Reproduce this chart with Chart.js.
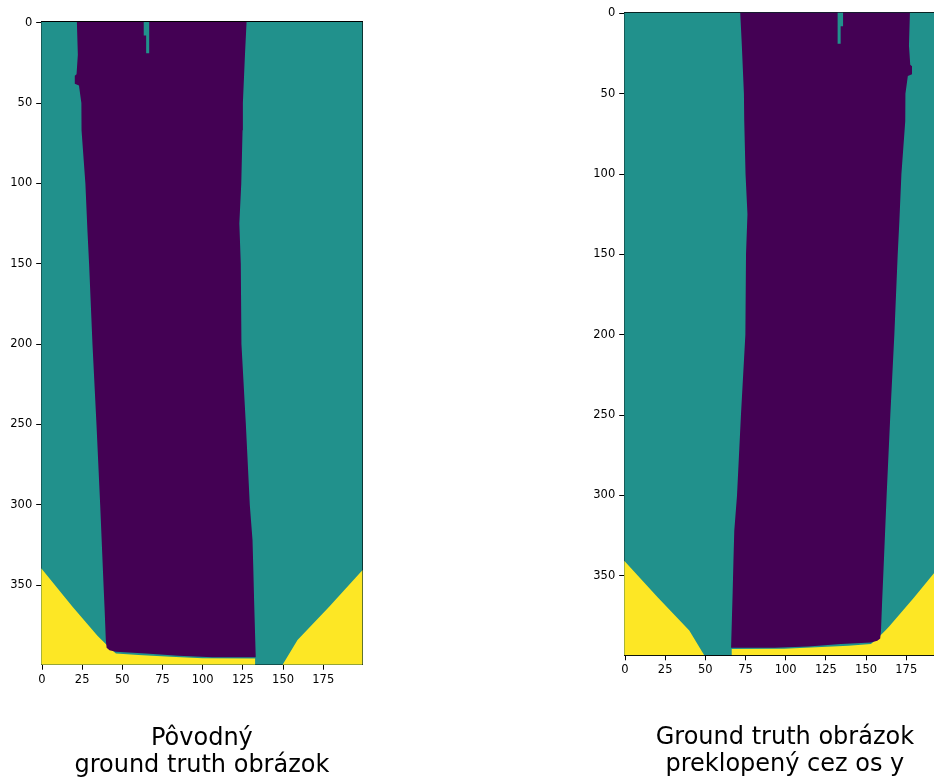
<!DOCTYPE html>
<html>
<head>
<meta charset="utf-8">
<script src="https://cdn.jsdelivr.net/npm/chart.js@4.4.1/dist/chart.umd.min.js"></script>
<style>
html, body { margin:0; padding:0; background:#fff; overflow:hidden; width:934px; height:780px; }
#c1 { position:absolute; left:0; top:0; }
#c2 { position:absolute; left:467px; top:0; }
</style>
</head>
<body>
<canvas id="c1" width="467" height="780"></canvas>
<canvas id="c2" width="520" height="780"></canvas>
<script>
// ---- tick labels ----
const xTickLabels = [0, 25, 50, 75, 100, 125, 150, 175];
const yTickLabels = [0, 50, 100, 150, 200, 250, 300, 350];

// ---- class 0 (purple) region boundaries (column, row) ----
const purpleLeftX    = [21.7, 22.3, 21.5, 20.4, 20.4, 23.0, 24.5, 24.6, 27.0, 28.3, 29.3, 31.4, 33.9, 36.2, 38.3, 39.0, 39.7, 40.2];
const purpleLeftRow  = [-0.5, 20,   32,   33,   38,   39,   50,   67,   100,  130,  150,  200,  250,  300,  350,  366,  384,  389];
const purpleBottomX   = [42.0,  46.0,  64.6,  85.0,  106.0, 133.0];
const purpleBottomRow = [390.5, 391.5, 392.5, 394.0, 394.8, 394.8];
const purpleRightX   = [133.0, 132.0, 131.5, 131.0, 129.3, 126.8, 124.1, 123.7, 122.8, 124.0, 124.8, 125.0, 126.3, 127.3];
const purpleRightRow = [394.8, 360,   340,   322,   300,   249,   200,   150,   125,   100,   67,    50,    20,    -0.5];

// ---- small class 1 (teal) notch inside the purple region at the top ----
const notchX   = [63.3, 66.7, 66.7, 64.8, 64.8, 63.3];
const notchRow = [-0.5, -0.5, 19,   19,   8,    8];

// ---- class 2 (yellow) regions ----
const yellowLeftX   = [-0.5,  19.0,  34.5,  37.0,  42.8,  46.0,  60.0,  80.0,  100.0, 132.6, 132.6, -0.5];
const yellowLeftRow = [339.5, 363.4, 381.5, 384.0, 389.8, 392.5, 393.5, 394.5, 395.5, 395.6, 399.5, 399.5];
const yellowRightX   = [199.5, 178.7, 159.0, 149.7, 199.5];
const yellowRightRow = [340.6, 363.4, 384.1, 399.5, 399.5];

// ---- image extent ----
const imgCols = 200, imgRows = 400;

const C_PURPLE = '#440154', C_TEAL = '#21918c', C_YELLOW = '#fde725';

function poly(xs, rows, mirror) {
  return xs.map((x, i) => ({ x: mirror ? (imgCols - 1) - x : x, y: rows[i] }));
}

function makeChart(id, mirror, pad, xAxisH, titleLines, titlePadBottom) {
  const purple = poly(purpleLeftX.concat(purpleBottomX, purpleRightX),
                      purpleLeftRow.concat(purpleBottomRow, purpleRightRow), mirror);
  const bg = poly([-0.5, imgCols - 0.5, imgCols - 0.5, -0.5], [-0.5, -0.5, imgRows - 0.5, imgRows - 0.5], false);
  const ds = (data, color, order) => ({
    data, order, backgroundColor: color, borderColor: color, borderWidth: 0,
    fill: 'shape', pointRadius: 0, pointHoverRadius: 0, tension: 0, showLine: true
  });
  const tickFont = { family: 'DejaVu Sans', size: 11.5 };
  return new Chart(document.getElementById(id), {
    type: 'line',
    data: {
      datasets: [
        ds(poly(notchX, notchRow, mirror), C_TEAL, 0),
        ds(purple, C_PURPLE, 1),
        ds(poly(yellowLeftX, yellowLeftRow, mirror), C_YELLOW, 2),
        ds(poly(yellowRightX, yellowRightRow, mirror), C_YELLOW, 3),
        ds(bg, C_TEAL, 4)
      ]
    },
    options: {
      responsive: false,
      devicePixelRatio: 1,
      animation: false,
      events: [],
      layout: { padding: pad },
      plugins: { legend: { display: false }, tooltip: { enabled: false } },
      scales: {
        x: {
          type: 'linear', position: 'bottom', min: -0.5, max: imgCols - 0.5,
          afterBuildTicks: s => { s.ticks = xTickLabels.map(v => ({ value: v })); },
          afterFit: s => { s.height = xAxisH; },
          ticks: { autoSkip: false, maxRotation: 0, padding: 3, color: '#000', font: tickFont },
          grid: { drawOnChartArea: false, drawTicks: true, tickLength: 5, color: '#000', lineWidth: 1 },
          border: { display: true, color: '#000', width: 1 },
          title: {
            display: true, text: titleLines, color: '#000',
            font: { family: 'DejaVu Sans', size: 24, lineHeight: 1.125 },
            padding: { top: 0, bottom: titlePadBottom }
          }
        },
        y: {
          type: 'linear', position: 'left', reverse: true, min: -0.5, max: imgRows - 0.5,
          afterBuildTicks: s => { s.ticks = yTickLabels.map(v => ({ value: v })); },
          afterFit: s => { s.width = 41.2; },
          ticks: { autoSkip: false, padding: 4, color: '#000', font: tickFont },
          grid: { drawOnChartArea: false, drawTicks: true, tickLength: 5, color: '#000', lineWidth: 1 },
          border: { display: true, color: '#000', width: 1 }
        },
        x2: {
          type: 'linear', position: 'top', min: -0.5, max: imgCols - 0.5,
          ticks: { display: false }, grid: { display: false, drawTicks: false },
          border: { display: true, color: '#000', width: 1 },
          afterFit: s => { s.height = 0; }
        },
        y2: {
          type: 'linear', position: 'right', min: -0.5, max: imgRows - 0.5, reverse: true,
          ticks: { display: false }, grid: { display: false, drawTicks: false },
          border: { display: true, color: '#000', width: 1 },
          afterFit: s => { s.width = 0; }
        }
      }
    }
  });
}

makeChart('c1', false, { left: 0, top: 21.9, right: 104.4, bottom: 0 }, 115.3,
          ['Pôvodný', 'ground truth obrázok'], 0.5);
makeChart('c2', true, { left: 116, top: 12.5, right: 41.4, bottom: 0 }, 124.7,
          ['Ground truth obrázok', 'preklopený cez os y'], 1.5);
</script>
</body>
</html>
